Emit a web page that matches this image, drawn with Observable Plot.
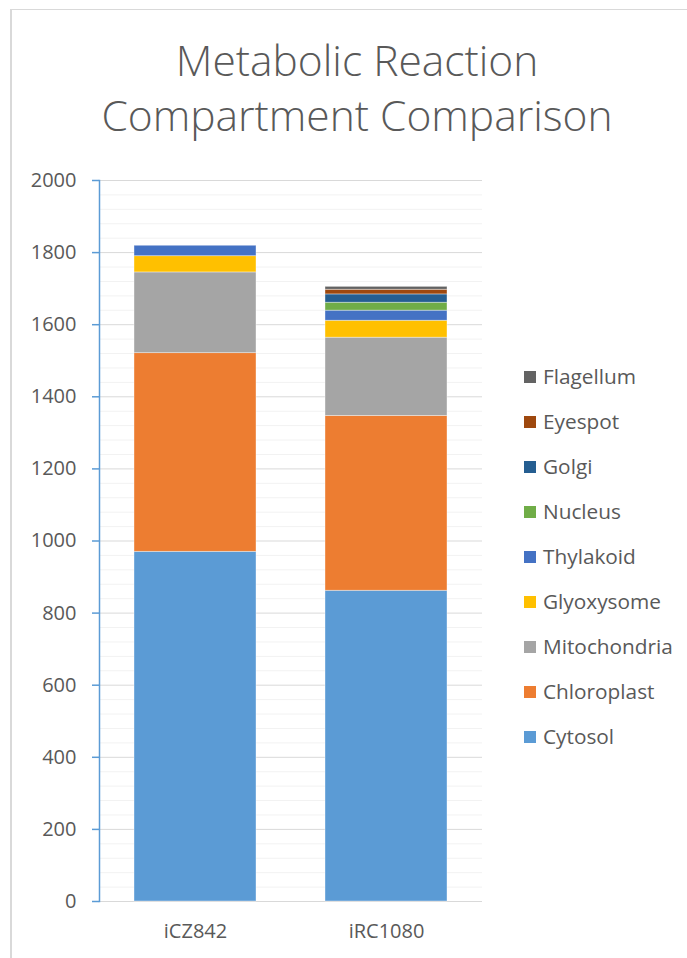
<!DOCTYPE html>
<html>
<head>
<meta charset="utf-8">
<script src="https://cdn.jsdelivr.net/npm/d3@7"></script>
<script src="https://cdn.jsdelivr.net/npm/@observablehq/plot@0.6"></script>
<style>
  html, body { margin: 0; padding: 0; background: #fff; }
  #wrap { position: relative; width: 687px; height: 958px; overflow: hidden; font-family: "Open Sans", sans-serif; color: #595959; }
  #frame { position: absolute; left: 10px; top: 9px; width: 700px; height: 960px; border-left: 2px solid #d9d9d9; border-top: 1px solid #d9d9d9; }
  #title { position: absolute; left: 0; width: 714px; top: 32px; text-align: center; font-size: 42.5px; font-weight: 300; line-height: 55px; color: #595959; }
  #chart { position: absolute; left: 0; top: 0; }
  #legend { position: absolute; left: 524px; top: 0; }
  .item { position: absolute; left: 0; white-space: nowrap; font-size: 20.8px; line-height: 22px; }
  .sw { position: absolute; left: 0; top: 5px; width: 12px; height: 12px; }
  .lab { position: absolute; left: 19px; top: -1px; }
</style>
</head>
<body>
<div id="wrap">
  <div id="frame"></div>
  <div id="title">Metabolic Reaction<br>Compartment Comparison</div>
  <div id="chart"></div>
  <div id="legend"></div>
</div>
<script>
// ---- data ----
const models = ["iCZ842", "iRC1080"];
const compartments = ["Cytosol", "Chloroplast", "Mitochondria", "Glyoxysome", "Thylakoid", "Nucleus", "Golgi", "Eyespot", "Flagellum"];
const iCZ842 = [970, 551, 224, 45, 29, 0, 0, 0, 0];
const iRC1080 = [862, 485, 217, 47, 28, 22, 23, 13, 8];
const colors = ["#5B9BD5", "#ED7D31", "#A5A5A5", "#FFC000", "#4472C4", "#70AD47", "#255E91", "#9E480E", "#636363"];
const yTicks = [0, 200, 400, 600, 800, 1000, 1200, 1400, 1600, 1800, 2000];

const series = { iCZ842, iRC1080 };
const rows = [];
for (const m of models) {
  compartments.forEach((c, i) => rows.push({ model: m, compartment: c, value: series[m][i] }));
}
const minor = d3.range(0, 2001, 40).filter(v => v % 200 !== 0);

const chart = Plot.plot({
  width: 687,
  height: 958,
  marginLeft: 99,
  marginRight: 205,
  marginTop: 180,
  marginBottom: 57,
  style: { fontFamily: "Open Sans, sans-serif", background: "transparent", color: "#595959" },
  x: { domain: models, paddingInner: 0.36, paddingOuter: 0.18, label: null },
  y: { domain: [0, 2000], label: null },
  color: { domain: compartments, range: colors },
  marks: [
    Plot.ruleY(minor, { stroke: "#f2f2f2", strokeWidth: 1 }),
    Plot.ruleY(yTicks, { stroke: "#d9d9d9", strokeWidth: 1 }),
    Plot.barY(rows, Plot.stackY({ x: "model", y: "value", fill: "compartment", stroke: "white", strokeOpacity: 0.5, strokeWidth: 0.75 })),
    Plot.frame({ anchor: "left", stroke: "#5b9bd5", strokeWidth: 1.5 }),
    Plot.axisY({ ticks: yTicks, tickSize: 7, stroke: "#5b9bd5", strokeWidth: 1.5, fill: "none", label: null }),
    Plot.axisY({ ticks: yTicks, tickSize: 0, tickPadding: 23, fill: "#595959", fontSize: 20, label: null, tickFormat: d => String(d) }),
    Plot.axisX({ tickSize: 0, tickPadding: 22, fill: "#595959", fontSize: 20, label: null })
  ]
});
document.getElementById("chart").appendChild(chart);

// legend (top = last compartment)
const legend = document.getElementById("legend");
const order = compartments.slice().reverse();
order.forEach((c, k) => {
  const idx = compartments.indexOf(c);
  const div = document.createElement("div");
  div.className = "item";
  div.style.top = (366 + 45 * k) + "px";
  div.innerHTML = `<span class="sw" style="background:${colors[idx]}"></span><span class="lab">${c}</span>`;
  legend.appendChild(div);
});
</script>
</body>
</html>
